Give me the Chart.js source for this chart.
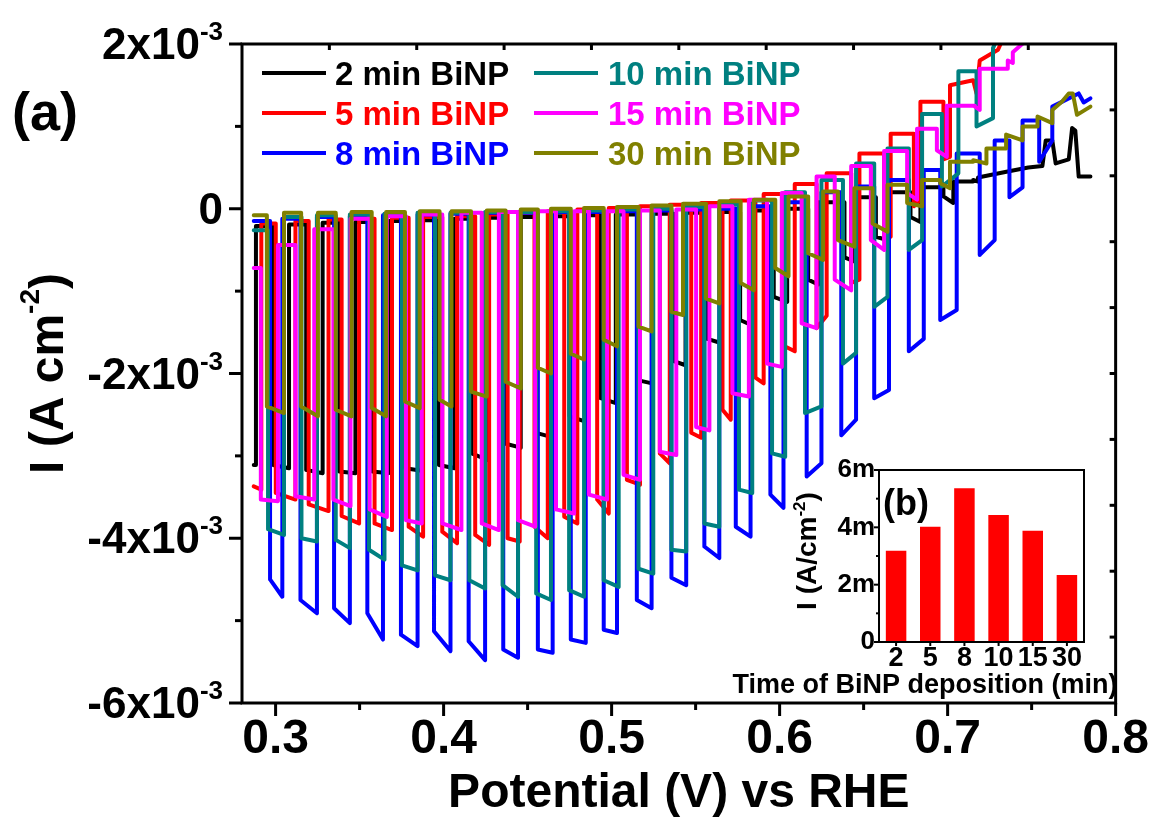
<!DOCTYPE html>
<html lang="en">
<head>
  <meta charset="UTF-8">
  <title>Chopped-light LSV of BiNP photocathodes</title>
  <script src="https://cdn.jsdelivr.net/npm/chart.js"></script>
  <style>
    body { margin: 0; background: #fff; }
    #wrap { position: relative; width: 1157px; height: 823px; }
    #main { position: absolute; left: 0; top: 0; }
    #inset { position: absolute; left: 725px; top: 440px; }
  </style>
</head>
<body>
<div id="wrap">
  <canvas id="main" width="1157" height="823"></canvas>
  <canvas id="inset" width="400" height="270"></canvas>
</div>
<script>
// potential in V vs RHE, current in 10^-3 A cm^-2
const startV = 0.287;
const seriesLabels = ['2 min BiNP', '5 min BiNP', '8 min BiNP', '10 min BiNP', '15 min BiNP', '30 min BiNP'];
const seriesColors = ['#000000', '#ff0000', '#0000ff', '#008080', '#ff00ff', '#808000'];

// each light pulse: on / off potential, current at start (A) and end (B) of the pulse,
// dark current before each pulse (last value = after the last pulse), then the tail
const blackOn = [0.2870, 0.2985, 0.3182, 0.3379, 0.3576, 0.3773, 0.3972, 0.4167, 0.4364, 0.4550, 0.4750, 0.4935, 0.5155, 0.5370, 0.5570, 0.5765, 0.5965, 0.6170, 0.6386, 0.6573, 0.6779, 0.6975, 0.7152];
const blackOff = [0.2883, 0.3080, 0.3280, 0.3475, 0.3672, 0.3868, 0.4065, 0.4262, 0.4459, 0.4640, 0.4840, 0.5025, 0.5240, 0.5440, 0.5650, 0.5850, 0.6045, 0.6229, 0.6445, 0.6642, 0.6838, 0.7034, 0.7181];
const blackLightA = [-3.11, -3.11, -3.17, -3.19, -3.19, -3.15, -3.11, -2.97, -2.85, -2.72, -2.52, -2.30, -2.08, -1.85, -1.58, -1.35, -1.07, -0.86, -0.59, -0.34, -0.10, 0.15, 0.35];
const blackLightB = [-3.11, -3.15, -3.21, -3.21, -3.21, -3.18, -3.15, -3.05, -2.90, -2.77, -2.58, -2.36, -2.12, -1.90, -1.63, -1.43, -1.13, -0.92, -0.64, -0.38, -0.16, 0.07, 0.33];
const blackDark = [null, -0.21, -0.19, -0.17, -0.16, -0.15, -0.14, -0.12, -0.11, -0.10, -0.09, -0.08, -0.07, -0.06, -0.05, -0.04, -0.02, 0.00, 0.08, 0.14, 0.20, 0.26, 0.33, 0.38];
const blackTailV = [0.7350, 0.7480, 0.7564, 0.7584, 0.7623, 0.7643, 0.7721, 0.7741, 0.7760, 0.7780, 0.7850];
const blackTailI = [0.45, 0.50, 0.52, 0.83, 0.83, 0.55, 0.60, 0.98, 0.95, 0.39, 0.39];

const redOn = [0.2870, 0.3001, 0.3197, 0.3393, 0.3589, 0.3792, 0.3992, 0.4188, 0.4381, 0.4541, 0.4718, 0.4914, 0.5091, 0.5287, 0.5474, 0.5660, 0.5856, 0.6030, 0.6220, 0.6426, 0.6622, 0.6799, 0.6975];
const redOff = [0.2915, 0.3118, 0.3315, 0.3497, 0.3693, 0.3878, 0.4080, 0.4271, 0.4453, 0.4620, 0.4796, 0.4983, 0.5169, 0.5346, 0.5533, 0.5709, 0.5905, 0.6090, 0.6280, 0.6475, 0.6661, 0.6838, 0.7014];
const redLightA = [-3.37, -3.45, -3.59, -3.73, -3.82, -3.86, -3.92, -3.96, -4.00, -3.86, -3.74, -3.53, -3.29, -2.97, -2.72, -2.44, -2.05, -1.67, -1.45, -0.90, -0.38, 0.03, 0.60];
const redLightB = [-3.41, -3.53, -3.67, -3.82, -3.90, -3.98, -4.06, -4.08, -4.04, -4.00, -3.82, -3.70, -3.35, -3.09, -2.78, -2.56, -2.12, -1.73, -1.30, -0.86, -0.34, 0.11, 0.63];
const redDark = [null, -0.18, -0.15, -0.13, -0.12, -0.11, -0.10, -0.09, -0.07, -0.05, -0.03, -0.01, 0.01, 0.03, 0.05, 0.07, 0.10, 0.18, 0.30, 0.43, 0.67, 0.91, 1.30, 1.50];
const redTailV = [0.7152, 0.7172, 0.7191, 0.7300, 0.7380];
const redTailI = [1.56, 1.40, 1.80, 1.93, 2.30];

const blueOn = [0.2967, 0.3148, 0.3348, 0.3546, 0.3746, 0.3943, 0.4149, 0.4355, 0.4561, 0.4757, 0.4953, 0.5150, 0.5356, 0.5552, 0.5739, 0.5945, 0.6161, 0.6367, 0.6563, 0.6769, 0.6956, 0.7191, 0.7368, 0.7545];
const blueOff = [0.3040, 0.3246, 0.3442, 0.3639, 0.3845, 0.4041, 0.4247, 0.4443, 0.4649, 0.4846, 0.5032, 0.5238, 0.5444, 0.5641, 0.5827, 0.6023, 0.6249, 0.6455, 0.6651, 0.6858, 0.7054, 0.7280, 0.7446, 0.7623];
const blueLightA = [-4.50, -4.75, -4.85, -4.91, -5.17, -5.13, -5.25, -5.35, -5.35, -5.23, -5.11, -4.75, -4.48, -4.10, -3.86, -3.47, -3.25, -2.75, -2.30, -1.73, -1.35, -0.56, 0.14, 0.57];
const blueLightB = [-4.71, -4.91, -5.03, -5.23, -5.31, -5.37, -5.48, -5.45, -5.39, -5.27, -5.15, -4.85, -4.57, -4.24, -3.98, -3.63, -3.09, -2.56, -2.20, -1.58, -1.23, -0.38, 0.26, 0.83];
const blueDark = [-0.15, -0.12, -0.10, -0.09, -0.08, -0.07, -0.06, -0.05, -0.05, -0.04, -0.04, -0.03, -0.02, -0.01, 0.00, 0.03, 0.08, 0.20, 0.27, 0.35, 0.47, 0.67, 0.83, 1.07, 1.24];
const blueTailV = [0.7780, 0.7810, 0.7850];
const blueTailI = [1.40, 1.29, 1.34];

const tealOn = [0.2955, 0.3154, 0.3358, 0.3556, 0.3752, 0.3949, 0.4153, 0.4351, 0.4551, 0.4747, 0.4953, 0.5160, 0.5356, 0.5552, 0.5758, 0.5955, 0.6151, 0.6377, 0.6563, 0.6769, 0.6966, 0.7172];
const tealOff = [0.3050, 0.3246, 0.3442, 0.3648, 0.3845, 0.4041, 0.4247, 0.4443, 0.4639, 0.4836, 0.5042, 0.5248, 0.5444, 0.5641, 0.5837, 0.6033, 0.6249, 0.6455, 0.6642, 0.6848, 0.7064, 0.7270];
const tealLightA = [-3.89, -4.00, -4.02, -4.14, -4.33, -4.45, -4.51, -4.57, -4.67, -4.63, -4.51, -4.37, -4.14, -3.82, -3.41, -2.97, -2.48, -1.88, -1.19, -0.50, 0.27, 1.00];
const tealLightB = [-3.96, -4.04, -4.12, -4.26, -4.39, -4.51, -4.61, -4.71, -4.75, -4.71, -4.59, -4.43, -4.16, -3.86, -3.45, -3.01, -2.40, -1.75, -1.07, -0.38, 0.43, 1.10];
const tealDark = [-0.26, -0.10, -0.08, -0.07, -0.06, -0.05, -0.05, -0.04, -0.04, -0.03, -0.02, -0.01, 0.00, 0.02, 0.05, 0.10, 0.20, 0.35, 0.55, 0.73, 1.15, 1.67, 1.95];
const tealTailV = [0.7345];
const tealTailI = [2.30];

const magentaOn = [0.2912, 0.3118, 0.3344, 0.3560, 0.3776, 0.3992, 0.4227, 0.4443, 0.4669, 0.4865, 0.5071, 0.5287, 0.5503, 0.5719, 0.5925, 0.6131, 0.6328, 0.6543, 0.6759, 0.6936, 0.7162, 0.7358];
const magentaOff = [0.3014, 0.3230, 0.3446, 0.3662, 0.3870, 0.4106, 0.4329, 0.4545, 0.4777, 0.4973, 0.5169, 0.5385, 0.5582, 0.5817, 0.6013, 0.6220, 0.6426, 0.6622, 0.6818, 0.6995, 0.7191, 0.7388];
const magentaLightA = [-3.53, -3.49, -3.53, -3.65, -3.78, -3.82, -3.82, -3.78, -3.65, -3.47, -3.23, -2.95, -2.65, -2.24, -1.88, -1.39, -0.86, -0.38, 0.19, 0.71, 1.24, 1.80];
const magentaLightB = [-3.55, -3.53, -3.61, -3.74, -3.82, -3.90, -3.90, -3.86, -3.70, -3.53, -3.29, -2.99, -2.69, -2.28, -1.92, -1.45, -0.99, -0.50, 0.11, 0.63, 1.20, 1.77];
const magentaDark = [-0.72, -0.44, -0.25, -0.12, -0.09, -0.07, -0.05, -0.04, -0.03, -0.03, -0.03, -0.02, -0.01, 0.03, 0.11, 0.19, 0.39, 0.52, 0.70, 0.97, 1.25, 1.70, 1.90];
const magentaTailV = [0.7466, 0.7520];
const magentaTailI = [2.04, 2.30];

const oliveOn = [0.2948, 0.3152, 0.3358, 0.3572, 0.3770, 0.3976, 0.4163, 0.4369, 0.4561, 0.4757, 0.4953, 0.5160, 0.5356, 0.5562, 0.5768, 0.5974, 0.6170, 0.6347, 0.6553, 0.6759, 0.6956, 0.7152, 0.7348, 0.7535];
const oliveOff = [0.3050, 0.3252, 0.3452, 0.3658, 0.3858, 0.4047, 0.4257, 0.4459, 0.4639, 0.4836, 0.5032, 0.5238, 0.5425, 0.5641, 0.5847, 0.6053, 0.6259, 0.6445, 0.6642, 0.6848, 0.7014, 0.7231, 0.7446, 0.7623];
const oliveLightA = [-2.40, -2.40, -2.44, -2.42, -2.34, -2.32, -2.22, -2.10, -1.93, -1.76, -1.59, -1.43, -1.25, -1.09, -0.90, -0.72, -0.54, -0.38, -0.18, 0.07, 0.31, 0.59, 0.90, 1.12];
const oliveLightB = [-2.48, -2.52, -2.52, -2.52, -2.42, -2.40, -2.28, -2.18, -2.00, -1.83, -1.67, -1.49, -1.29, -1.15, -0.99, -0.82, -0.62, -0.46, -0.28, 0.03, 0.25, 0.55, 0.83, 1.04];
const oliveDark = [-0.08, -0.05, -0.05, -0.04, -0.04, -0.03, -0.03, -0.02, -0.01, 0.00, 0.01, 0.02, 0.04, 0.06, 0.09, 0.11, 0.15, 0.21, 0.25, 0.29, 0.35, 0.57, 0.73, 1.00, 1.20];
const oliveTailV = [0.7680, 0.7721, 0.7745, 0.7770, 0.7850];
const oliveTailI = [1.30, 1.40, 1.40, 1.14, 1.24];

// axis ticks
const xMajor = [0.3, 0.4, 0.5, 0.6, 0.7, 0.8];
const xMinor = [0.35, 0.45, 0.55, 0.65, 0.75];
const yMajor = [2, 0, -2, -4, -6];
const yMinor = [1, -1, -3, -5];
const frameTicks = [1, 2, 3, 4, 5, 6, 7, 8, 9];

// inset (b): photocurrent vs deposition time, 10^-3 A cm^-2
const insetLabels = ['2', '5', '8', '10', '15', '30'];
const insetValues = [3.18, 4.02, 5.36, 4.43, 3.88, 2.34];
const insetYMajor = [0, 2, 4, 6];
const insetYMinor = [1, 3, 5];

const FONT = "'Liberation Sans', Arial, sans-serif";
Chart.defaults.font.family = FONT;
Chart.defaults.color = '#000';

function chopPoints(on, off, a, b, dark, tailV, tailI) {
  const pts = [];
  if (dark[0] !== null) pts.push({ x: startV, y: dark[0] });
  for (let i = 0; i < on.length; i++) {
    if (dark[i] !== null) pts.push({ x: on[i], y: dark[i] });
    pts.push({ x: on[i], y: a[i] });
    pts.push({ x: off[i], y: b[i] });
    pts.push({ x: off[i], y: dark[i + 1] });
  }
  tailV.forEach((v, j) => pts.push({ x: v, y: tailI[j] }));
  return pts;
}

const curves = [
  chopPoints(blackOn, blackOff, blackLightA, blackLightB, blackDark, blackTailV, blackTailI),
  chopPoints(redOn, redOff, redLightA, redLightB, redDark, redTailV, redTailI),
  chopPoints(blueOn, blueOff, blueLightA, blueLightB, blueDark, blueTailV, blueTailI),
  chopPoints(tealOn, tealOff, tealLightA, tealLightB, tealDark, tealTailV, tealTailI),
  chopPoints(magentaOn, magentaOff, magentaLightA, magentaLightB, magentaDark, magentaTailV, magentaTailI),
  chopPoints(oliveOn, oliveOff, oliveLightA, oliveLightB, oliveDark, oliveTailV, oliveTailI)
];

// text with superscripts: parts = [text, size, rise]
function partsWidth(ctx, parts) {
  let w = 0;
  parts.forEach(p => { ctx.font = `bold ${p[1]}px ${FONT}`; w += ctx.measureText(p[0]).width; });
  return w;
}
function drawParts(ctx, x, y, parts) {
  ctx.textAlign = 'left';
  ctx.textBaseline = 'alphabetic';
  parts.forEach(p => {
    ctx.font = `bold ${p[1]}px ${FONT}`;
    ctx.fillText(p[0], x, y - p[2]);
    x += ctx.measureText(p[0]).width;
  });
}
function line(ctx, x1, y1, x2, y2) {
  ctx.beginPath(); ctx.moveTo(x1, y1); ctx.lineTo(x2, y2); ctx.stroke();
}

const mainDecor = {
  id: 'mainDecor',
  afterDatasetsDraw(chart) {
    const { ctx, chartArea: a, scales } = chart;
    ctx.save();
    ctx.strokeStyle = '#000';
    ctx.fillStyle = '#000';
    ctx.lineWidth = 3;
    ctx.strokeRect(a.left, a.top, a.right - a.left, a.bottom - a.top);
    xMajor.forEach(v => { const p = scales.x.getPixelForValue(v); line(ctx, p, a.bottom, p, a.bottom + 13); });
    xMinor.forEach(v => { const p = scales.x.getPixelForValue(v); line(ctx, p, a.bottom, p, a.bottom + 7); });
    yMajor.forEach(v => { const p = scales.y.getPixelForValue(v); line(ctx, a.left - 13, p, a.left, p); });
    yMinor.forEach(v => { const p = scales.y.getPixelForValue(v); line(ctx, a.left - 7, p, a.left, p); });
    frameTicks.forEach(v => {
      const px = scales.x2.getPixelForValue(v);
      line(ctx, px, a.top, px, a.top + 6);
      const py = scales.y2.getPixelForValue(v);
      line(ctx, a.right - 6, py, a.right, py);
    });

    // y tick labels, e.g. 2x10^-3
    yMajor.forEach(v => {
      const p = scales.y.getPixelForValue(v);
      const parts = v === 0 ? [['0', 44, 0]] : [[`${v}x10`, 44, 0], ['-3', 26, 19]];
      const w = partsWidth(ctx, parts);
      drawParts(ctx, 223 - w, p + 15, parts);
    });

    // y title
    const tParts = [['I (A cm', 48, 0], ['-2', 28, 24], [')', 48, 0]];
    ctx.save();
    ctx.translate(63, (a.top + a.bottom) / 2);
    ctx.rotate(-Math.PI / 2);
    drawParts(ctx, -partsWidth(ctx, tParts) / 2, 0, tParts);
    ctx.restore();

    // panel label
    ctx.font = `bold 54px ${FONT}`;
    ctx.textAlign = 'left';
    ctx.fillText('(a)', 12, 130);

    // legend, two columns
    const lineX = [262, 534], textX = [335, 608], rowY = [73, 113, 153];
    chart.data.datasets.forEach((ds, i) => {
      const col = Math.floor(i / 3), row = i % 3;
      ctx.strokeStyle = ds.borderColor;
      ctx.lineWidth = 4;
      line(ctx, lineX[col], rowY[row], lineX[col] + 64, rowY[row]);
      ctx.fillStyle = ds.borderColor;
      ctx.font = `bold 33px ${FONT}`;
      ctx.textBaseline = 'alphabetic';
      ctx.fillText(ds.label, textX[col], rowY[row] + 12);
    });
    ctx.restore();
  }
};

new Chart(document.getElementById('main'), {
  type: 'line',
  data: {
    datasets: curves.map((pts, i) => ({
      label: seriesLabels[i],
      data: pts,
      borderColor: seriesColors[i],
      borderWidth: 4,
      pointRadius: 0,
      tension: 0,
      fill: false,
      borderJoinStyle: 'round',
      borderCapStyle: 'round',
      order: curves.length - 1 - i,
      xAxisID: 'x',
      yAxisID: 'y'
    }))
  },
  options: {
    responsive: false,
    animation: false,
    layout: { padding: { left: 0, top: 44, right: 35, bottom: 0 } },
    plugins: { legend: { display: false }, tooltip: { enabled: false } },
    scales: {
      x: {
        type: 'linear', position: 'bottom', min: 0.28, max: 0.8,
        afterBuildTicks: s => { s.ticks = xMajor.map(v => ({ value: v })); },
        ticks: { callback: v => v.toFixed(1), font: { size: 48, weight: 'bold' }, color: '#000', padding: 8, maxRotation: 0, autoSkip: false },
        grid: { display: false, drawTicks: false },
        border: { display: false },
        title: { display: true, text: 'Potential (V) vs RHE', font: { size: 48, weight: 'bold' }, color: '#000', padding: { top: 0, bottom: 0 } },
        afterFit: s => { s.height = 120; }
      },
      y: {
        type: 'linear', position: 'left', min: -6, max: 2,
        afterBuildTicks: s => { s.ticks = yMajor.map(v => ({ value: v })); },
        ticks: { display: false },
        grid: { display: false, drawTicks: false },
        border: { display: false },
        afterFit: s => { s.width = 242; }
      },
      x2: {
        type: 'linear', position: 'top', min: 0, max: 10,
        ticks: { display: false }, grid: { display: false, drawTicks: false }, border: { display: false },
        afterFit: s => { s.height = 0; }
      },
      y2: {
        type: 'linear', position: 'right', min: 0, max: 10, reverse: true,
        ticks: { display: false }, grid: { display: false, drawTicks: false }, border: { display: false },
        afterFit: s => { s.width = 0; }
      }
    }
  },
  plugins: [mainDecor]
});

const insetDecor = {
  id: 'insetDecor',
  afterDatasetsDraw(chart) {
    const { ctx, chartArea: a, scales } = chart;
    ctx.save();
    ctx.strokeStyle = '#000';
    ctx.fillStyle = '#000';
    ctx.lineWidth = 2;
    ctx.strokeRect(a.left, a.top, a.right - a.left, a.bottom - a.top);
    insetYMajor.forEach(v => { const p = scales.y.getPixelForValue(v); line(ctx, a.left - 5, p, a.left, p); });
    insetYMinor.forEach(v => { const p = scales.y.getPixelForValue(v); line(ctx, a.left - 3, p, a.left, p); });
    insetLabels.forEach((l, i) => { const p = scales.x.getPixelForValue(i); line(ctx, p, a.bottom, p, a.bottom + 4); });

    ctx.font = `bold 36px ${FONT}`;
    ctx.textAlign = 'left';
    ctx.fillText('(b)', 158, 75);

    ctx.font = `bold 27px ${FONT}`;
    ctx.textAlign = 'center';
    ctx.fillText('Time of BiNP deposition (min)', 200, 253);

    const tParts = [['I (A/cm', 28, 0], ['-2', 17, 11], [')', 28, 0]];
    ctx.save();
    ctx.translate(91, (a.top + a.bottom) / 2 - 5);
    ctx.rotate(-Math.PI / 2);
    drawParts(ctx, -partsWidth(ctx, tParts) / 2, 0, tParts);
    ctx.restore();
    ctx.restore();
  }
};

new Chart(document.getElementById('inset'), {
  type: 'bar',
  data: {
    labels: insetLabels,
    datasets: [{ data: insetValues, backgroundColor: '#ff0000', borderWidth: 0, barPercentage: 0.6, categoryPercentage: 1 }]
  },
  options: {
    responsive: false,
    animation: false,
    layout: { padding: { left: 0, top: 30, right: 41, bottom: 0 } },
    plugins: { legend: { display: false }, tooltip: { enabled: false } },
    scales: {
      x: {
        ticks: { font: { size: 27, weight: 'bold' }, color: '#000', padding: 0, maxRotation: 0 },
        grid: { display: false, drawTicks: false },
        border: { display: false },
        afterFit: s => { s.height = 68; }
      },
      y: {
        min: 0, max: 6,
        afterBuildTicks: s => { s.ticks = insetYMajor.map(v => ({ value: v })); },
        ticks: { callback: v => (v === 0 ? '0' : v + 'm'), font: { size: 26, weight: 'bold' }, color: '#000', padding: 4 },
        grid: { display: false, drawTicks: false },
        border: { display: false },
        afterFit: s => { s.width = 154; }
      }
    }
  },
  plugins: [insetDecor]
});
</script>
</body>
</html>
